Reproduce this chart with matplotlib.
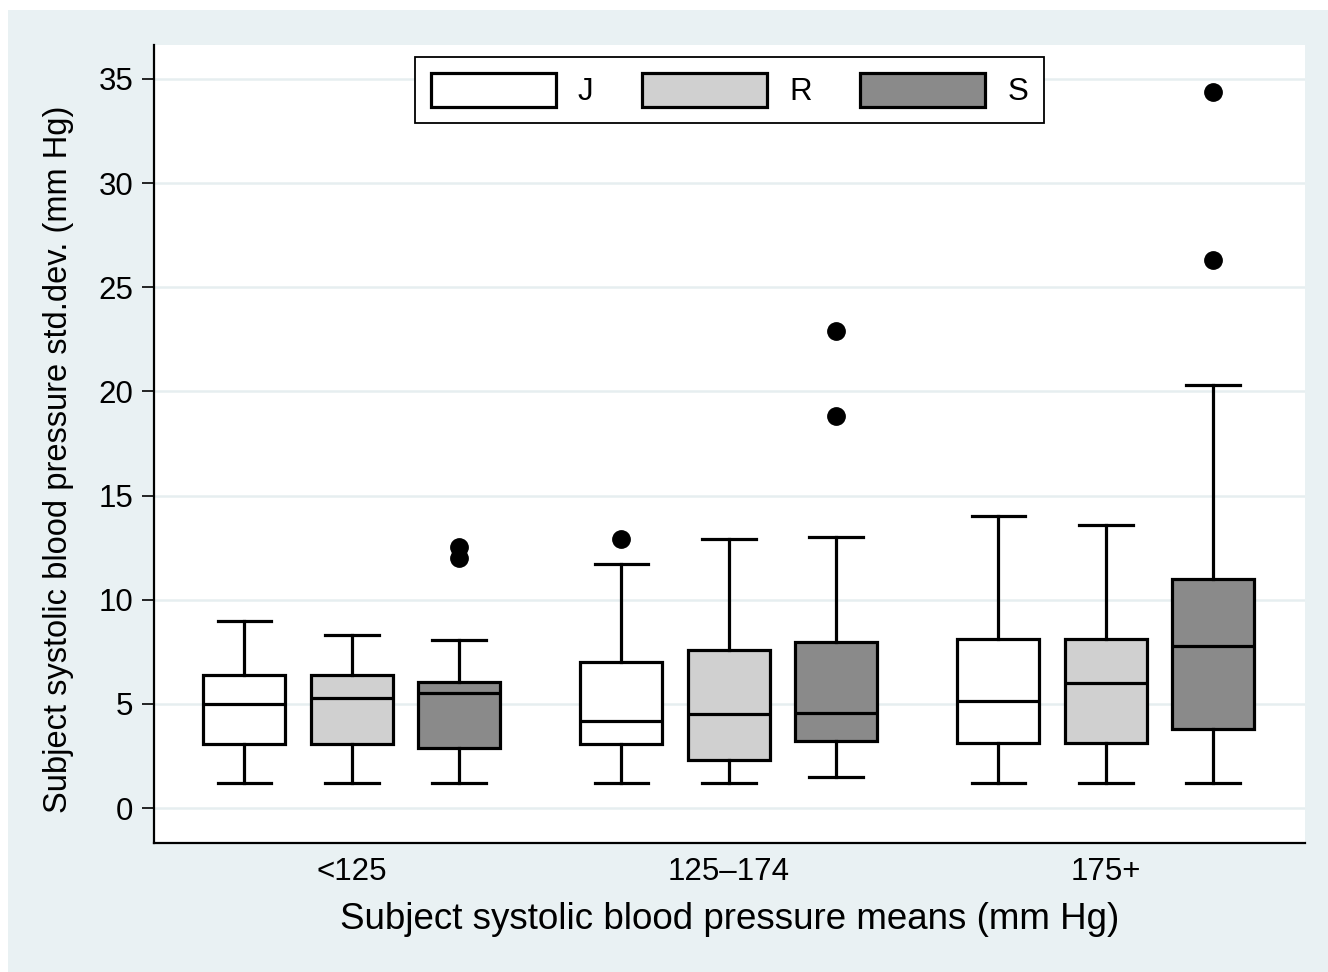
import matplotlib
matplotlib.use("Agg")
import matplotlib.pyplot as plt
from matplotlib.patches import Patch, Rectangle

plt.rcParams['font.family'] = ['Liberation Sans', 'DejaVu Sans']

# groups and series
groups = ['<125', '125\u2013174', '175+']
series = ['J', 'R', 'S']
colors = {'J': '#ffffff', 'R': '#d0d0d0', 'S': '#8a8a8a'}

# box statistics, one value per group
q1 = {'J': [3.09, 3.09, 3.10], 'R': [3.09, 2.30, 3.10], 'S': [2.90, 3.23, 3.79]}
med = {'J': [5.01, 4.19, 5.14], 'R': [5.28, 4.50, 6.00], 'S': [5.51, 4.58, 7.79]}
q3 = {'J': [6.40, 6.99, 8.10], 'R': [6.40, 7.58, 8.10], 'S': [6.07, 7.98, 10.98]}
whislo = {'J': [1.18, 1.18, 1.18], 'R': [1.18, 1.18, 1.18], 'S': [1.18, 1.50, 1.18]}
whishi = {'J': [8.99, 11.70, 14.00], 'R': [8.29, 12.90, 13.60], 'S': [8.08, 13.00, 20.31]}
fliers = {'J': [[], [12.9], []], 'R': [[], [], []], 'S': [[12.55, 11.99], [22.9, 18.82], [34.39, 26.31]]}

bg = '#e9f1f3'
fig = plt.figure(figsize=(13.28, 9.72), dpi=100, facecolor='white')
fig.patches.append(Rectangle((8 / 1328, 0), 1, 1 - 10 / 972, transform=fig.transFigure,
                             facecolor=bg, edgecolor='none', zorder=-10))
ax = fig.add_axes([154 / 1328, 1 - 843 / 972, (1305 - 154) / 1328, (843 - 45) / 972])
ax.set_facecolor('white')

offset = 0.285
for k, s in enumerate(series):
    stats = []
    for g in range(len(groups)):
        stats.append({'med': med[s][g], 'q1': q1[s][g], 'q3': q3[s][g],
                      'whislo': whislo[s][g], 'whishi': whishi[s][g],
                      'fliers': fliers[s][g]})
    pos = [g + (k - 1) * offset for g in range(len(groups))]
    ax.bxp(stats, positions=pos, widths=0.2175, capwidths=0.143, patch_artist=True,
           manage_ticks=False,
           boxprops=dict(facecolor=colors[s], edgecolor='black', linewidth=2.3),
           medianprops=dict(color='black', linewidth=2.3),
           whiskerprops=dict(color='black', linewidth=2.3),
           capprops=dict(color='black', linewidth=2.3),
           flierprops=dict(marker='o', markerfacecolor='black', markeredgecolor='black',
                           markersize=12.5))

ax.set_xlim(-0.525, 2.528)
ax.set_ylim(-1.68, 36.63)
ax.set_yticks(range(0, 36, 5))
ax.set_xticks(range(len(groups)))
ax.set_xticklabels(groups)
ax.yaxis.grid(True, color='#e6eef0', linewidth=1.8)
ax.set_axisbelow(True)
ax.tick_params(axis='y', length=9, width=1.2, pad=6, labelsize=22.5)
ax.tick_params(axis='x', length=0, pad=10, labelsize=22.5)
for sp in ['top', 'right']:
    ax.spines[sp].set_visible(False)
ax.spines['left'].set_linewidth(1.6)
ax.spines['bottom'].set_linewidth(1.6)

ax.set_ylabel('Subject systolic blood pressure std.dev. (mm Hg)', fontsize=23.5)
ax.yaxis.set_label_coords(-0.0695, 0.481)
ax.set_xlabel('Subject systolic blood pressure means (mm Hg)', fontsize=26.5, labelpad=11)

handles = [Patch(facecolor=colors[s], edgecolor='black', linewidth=2.3) for s in series]
leg = ax.legend(handles, series, loc='upper center', ncol=3, fontsize=22.5,
                handlelength=4.0, handleheight=1.3, handletextpad=0.7, columnspacing=1.56,
                borderaxespad=0.38, borderpad=0.5, fancybox=False, framealpha=1,
                edgecolor='black')
leg.get_frame().set_linewidth(1.3)

fig.savefig('out.png', dpi=100, facecolor=fig.get_facecolor())
